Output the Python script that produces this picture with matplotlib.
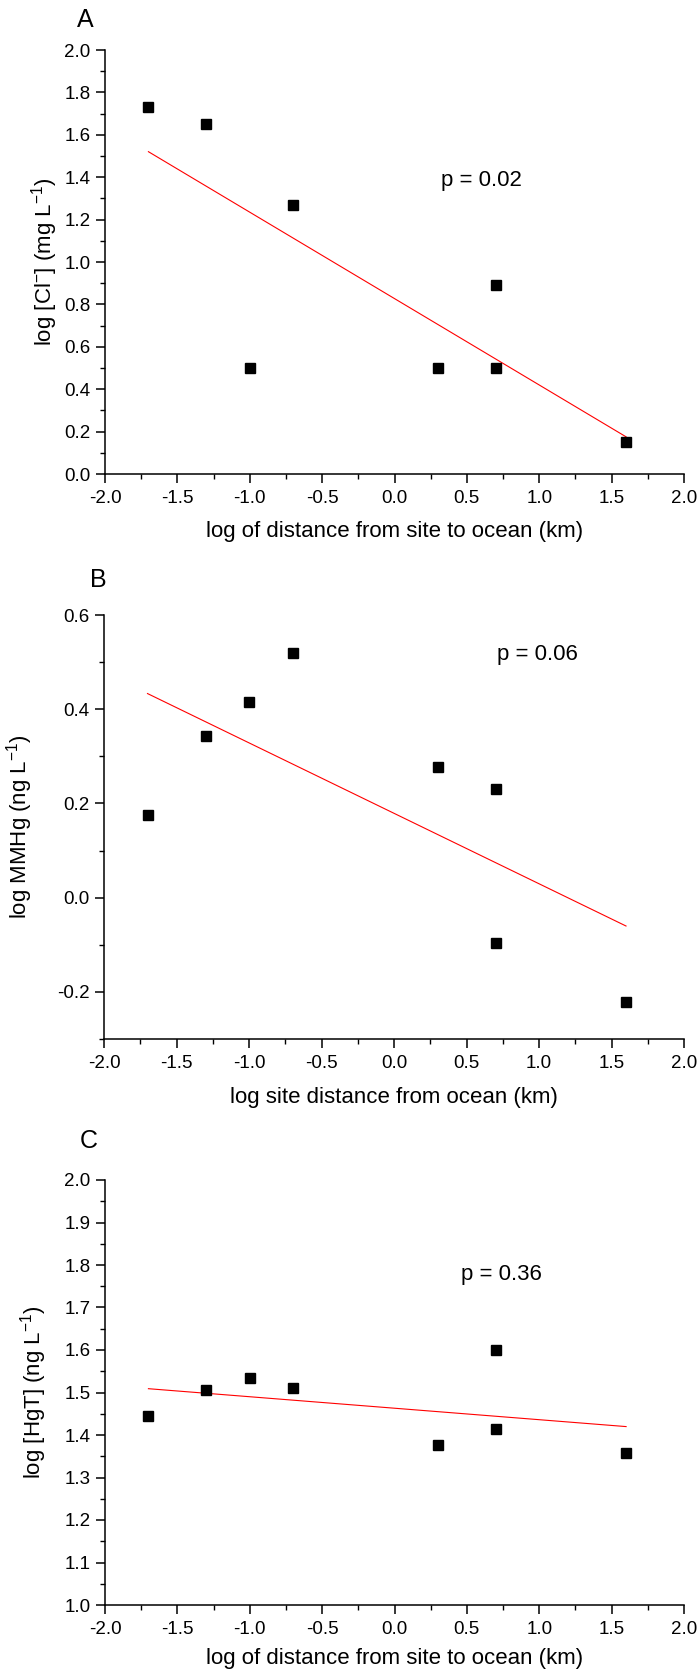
import numpy as np
import matplotlib
matplotlib.use("Agg")
import matplotlib.pyplot as plt
from matplotlib.ticker import MultipleLocator, FormatStrFormatter

plt.rcParams['font.family'] = ['Liberation Sans', 'DejaVu Sans']
plt.rcParams['mathtext.fontset'] = 'custom'
plt.rcParams['mathtext.rm'] = 'Liberation Sans'
plt.rcParams['mathtext.it'] = 'Liberation Sans:italic'

# Data
x_dist = [-1.7, -1.3, -1.0, -0.7, 0.3, 0.7, 0.7, 1.6]
cl_vals = [1.73, 1.65, 0.50, 1.27, 0.50, 0.89, 0.50, 0.15]
x_dist_b = [-1.7, -1.3, -1.0, -0.7, 0.3, 0.7, 0.7, 1.6]
mmhg_vals = [0.175, 0.343, 0.415, 0.520, 0.278, 0.230, -0.097, -0.222]
x_dist_c = [-1.7, -1.3, -1.0, -0.7, 0.3, 0.7, 0.7, 1.6]
hgt_vals = [1.445, 1.505, 1.535, 1.510, 1.376, 1.600, 1.413, 1.358]

p_labels = ["p = 0.02", "p = 0.06", "p = 0.36"]
panel_letters = ["A", "B", "C"]
xlabels = ["log of distance from site to ocean (km)",
           "log site distance from ocean (km)",
           "log of distance from site to ocean (km)"]
ylabels = [r"log [Cl$^{-}$] (mg L$^{-1}$)",
           r"log MMHg (ng L$^{-1}$)",
           r"log [HgT] (ng L$^{-1}$)"]

fig = plt.figure(figsize=(6.98, 16.76), dpi=100)

W, H = 698.0, 1676.0
specs = [
    dict(px=(105, 50, 684, 474), x=x_dist, y=cl_vals, ylim=(0.0, 2.0), major=0.2, minor=0.1,
         ptxt=(0.32, 1.385), ylab_x=-0.078, xlab_y=-0.112, letter=(85, 20)),
    dict(px=(104, 615, 684, 1039), x=x_dist_b, y=mmhg_vals, ylim=(-0.3, 0.6), major=0.2, minor=0.1,
         ptxt=(0.71, 0.517), ylab_x=-0.119, xlab_y=-0.113, letter=(98, 580)),
    dict(px=(105, 1180, 684, 1605), x=x_dist_c, y=hgt_vals, ylim=(1.0, 2.0), major=0.1, minor=0.05,
         ptxt=(0.46, 1.777), ylab_x=-0.097, xlab_y=-0.10, letter=(89, 1141)),
]

for i, s in enumerate(specs):
    l, t, r, b = s['px']
    ax = fig.add_axes([l / W, 1 - b / H, (r - l) / W, (b - t) / H])
    xs = np.array(s['x']); ys = np.array(s['y'])
    ax.plot(xs, ys, 's', color='black', ms=7, zorder=3, clip_on=False)
    slope, intercept = np.polyfit(xs, ys, 1)
    xl = np.array([xs.min(), xs.max()])
    ax.plot(xl, slope * xl + intercept, color='red', lw=0.8, zorder=2)
    ax.set_xlim(-2.0, 2.0)
    ax.set_ylim(*s['ylim'])
    ax.xaxis.set_major_locator(MultipleLocator(0.5))
    ax.xaxis.set_minor_locator(MultipleLocator(0.25))
    ax.yaxis.set_major_locator(MultipleLocator(s['major']))
    ax.yaxis.set_minor_locator(MultipleLocator(s['minor']))
    ax.xaxis.set_major_formatter(FormatStrFormatter('%.1f'))
    ax.yaxis.set_major_formatter(FormatStrFormatter('%.1f'))
    for sp in ['top', 'right']:
        ax.spines[sp].set_visible(False)
    for sp in ['left', 'bottom']:
        ax.spines[sp].set_linewidth(1.1)
    ax.tick_params(which='major', direction='out', length=6.5, width=1.1, labelsize=13.5)
    ax.tick_params(which='minor', direction='out', length=3.6, width=1.0)
    ax.tick_params(axis='x', which='major', pad=5)
    ax.tick_params(axis='y', which='major', pad=4)
    ax.set_xlabel(xlabels[i], fontsize=16)
    ax.set_ylabel(ylabels[i], fontsize=16)
    ax.xaxis.set_label_coords(0.5, s['xlab_y'])
    ax.yaxis.set_label_coords(s['ylab_x'], 0.5)
    ax.text(s['ptxt'][0], s['ptxt'][1], p_labels[i], fontsize=16, ha='left', va='center')
    fig.text(s['letter'][0] / W, 1 - s['letter'][1] / H, panel_letters[i], fontsize=18,
             ha='center', va='center')

fig.savefig("out.png", dpi=100)
